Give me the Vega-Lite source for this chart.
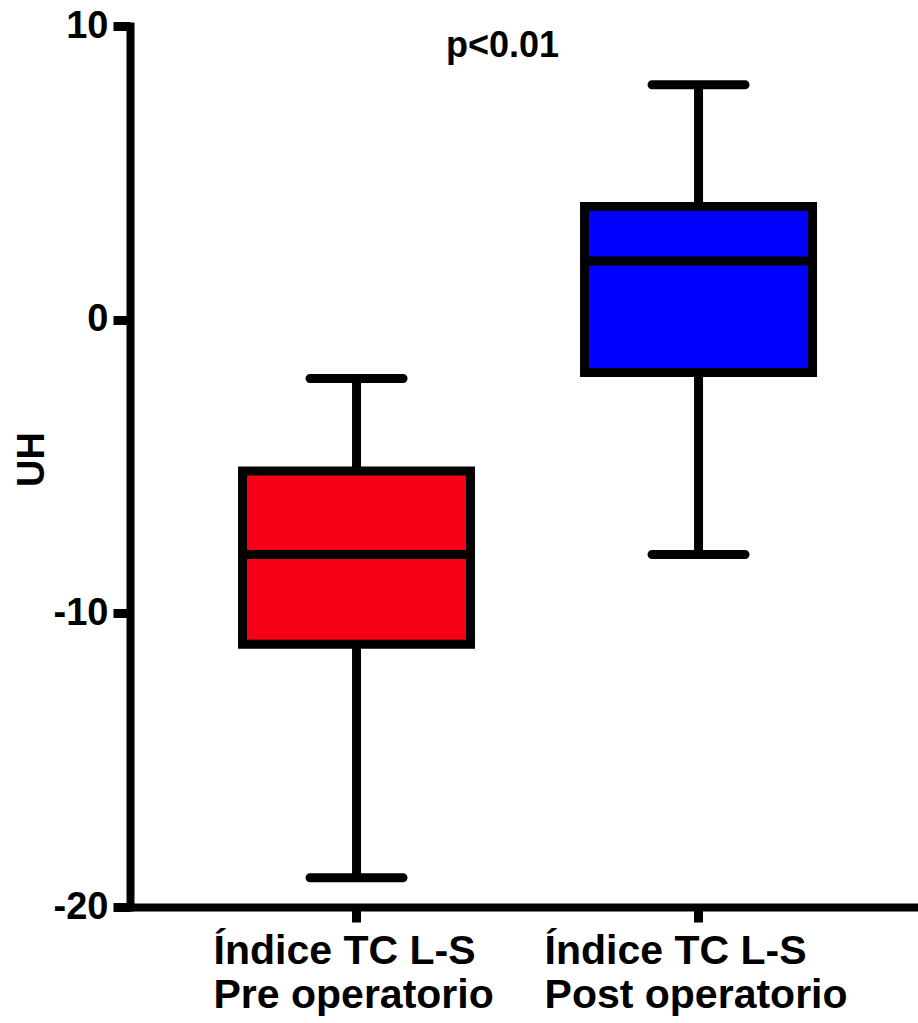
{
  "$schema": "https://vega.github.io/schema/vega-lite/v6.json",
  "width": 788,
  "height": 881,
  "autosize": {"type": "none"},
  "padding": {"left": 130, "top": 26, "right": 0, "bottom": 116},
  "background": "white",
  "config": {"view": {"stroke": null}, "font": "Liberation Sans"},
  "layer": [
    {
      "data": {
        "values": [
          {"grupo": "Índice TC L-S\nPre operatorio", "min": -19, "q1": -11.05, "mediana": -8, "q3": -5.15, "max": -2},
          {"grupo": "Índice TC L-S\nPost operatorio", "min": -8, "q1": -1.8, "mediana": 2, "q3": 3.85, "max": 8}
        ]
      },
      "encoding": {
        "x": {
          "field": "grupo",
          "type": "nominal",
          "sort": null,
          "scale": {"paddingInner": 0, "paddingOuter": 0.152, "align": 0.534},
          "axis": {
            "title": null,
            "grid": false,
            "domainColor": "black",
            "domainWidth": 8,
            "domainCap": "square",
            "tickColor": "black",
            "tickWidth": 9,
            "tickSize": 15,
            "bandPosition": 0.5,
            "labelExpr": "split(datum.label, '\\n')",
            "labelAngle": 0,
            "labelAlign": "left",
            "labelOffset": {"condition": {"test": "indexof(datum.value, 'Pre') >= 0", "value": -143}, "value": -154},
            "labelBaseline": "top",
            "labelLineHeight": 44,
            "labelPadding": 9,
            "labelLimit": 500,
            "labelFont": "Liberation Sans",
            "labelFontSize": 41,
            "labelFontWeight": "bold",
            "labelColor": "black",
            "labelOverlap": false,
            "labelBound": false
          }
        }
      },
      "layer": [
        {
          "mark": {"type": "rule", "strokeWidth": 9, "color": "black"},
          "encoding": {
            "y": {
              "field": "min",
              "type": "quantitative",
              "scale": {"domain": [-20, 10], "nice": false, "zero": false},
              "axis": {
                "title": "UH",
                "values": [-20, -10, 0, 10],
                "labelExpr": "'' + datum.value",
                "grid": false,
                "domainColor": "black",
                "domainWidth": 8,
                "domainCap": "square",
                "tickColor": "black",
                "tickWidth": 9,
                "tickSize": 17,
                "labelFont": "Liberation Sans",
                "labelFontSize": 38,
                "labelFontWeight": "bold",
                "labelColor": "black",
                "labelPadding": 5,
                "labelFlush": false,
                "labelOverlap": false,
                "titleFont": "Liberation Sans",
                "titleFontSize": 38,
                "titleFontWeight": "bold",
                "titleColor": "black",
                "titlePadding": 2,
                "titleY": 433
              }
            },
            "y2": {"field": "max"}
          }
        },
        {
          "mark": {"type": "tick", "thickness": 9, "size": 102, "cornerRadius": 4.5, "color": "black", "opacity": 1},
          "encoding": {"y": {"field": "min", "type": "quantitative"}}
        },
        {
          "mark": {"type": "tick", "thickness": 9, "size": 102, "cornerRadius": 4.5, "color": "black", "opacity": 1},
          "encoding": {"y": {"field": "max", "type": "quantitative"}}
        },
        {
          "mark": {"type": "bar", "size": 228, "stroke": "black", "strokeWidth": 9, "strokeJoin": "miter", "opacity": 1},
          "encoding": {
            "y": {"field": "q1", "type": "quantitative"},
            "y2": {"field": "q3"},
            "color": {
              "field": "grupo",
              "type": "nominal",
              "scale": {"domain": ["Índice TC L-S\nPre operatorio", "Índice TC L-S\nPost operatorio"], "range": ["#F60017", "#0000FF"]},
              "legend": null
            }
          }
        },
        {
          "mark": {"type": "tick", "thickness": 9, "size": 228, "color": "black", "opacity": 1},
          "encoding": {"y": {"field": "mediana", "type": "quantitative"}}
        }
      ]
    },
    {
      "data": {"values": [{"anotacion": "p<0.01"}]},
      "mark": {"type": "text", "font": "Liberation Sans", "fontSize": 36, "fontWeight": "bold", "color": "black", "align": "center", "baseline": "alphabetic"},
      "encoding": {
        "x": {"datum": 0.4727, "type": "quantitative", "scale": {"domain": [0, 1], "nice": false, "zero": false}, "axis": null},
        "y": {"datum": 8.94, "type": "quantitative"},
        "text": {"field": "anotacion", "type": "nominal"}
      }
    }
  ],
  "resolve": {"scale": {"x": "independent"}}
}
